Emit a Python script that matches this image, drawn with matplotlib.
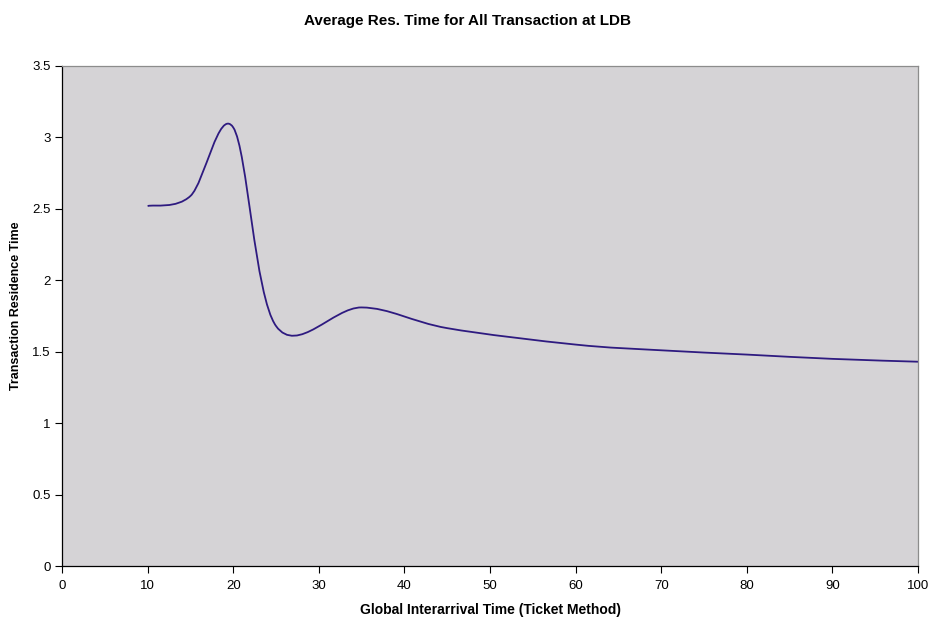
import numpy as np
import matplotlib
matplotlib.use("Agg")
import matplotlib.pyplot as plt
from matplotlib.path import Path
from matplotlib.patches import PathPatch

plt.rcParams['font.family'] = ['Liberation Sans', 'DejaVu Sans']

# interarrival time vs mean residence time at LDB
interarrival = [10, 15, 20, 25, 35, 45, 60, 70, 80, 90, 100]
res_time = [2.52, 2.59, 3.07, 1.68, 1.81, 1.665, 1.55, 1.51, 1.48, 1.45, 1.43]

line_color = "#2e1a80"
plot_bg = "#d5d3d6"


def smooth_path(x, y):
    # spreadsheet-style smoothed line: cubic bezier segments, tangents from neighbours
    x = np.asarray(x, float)
    y = np.asarray(y, float)
    n = len(x)
    verts = [(x[0], y[0])]
    codes = [Path.MOVETO]
    for i in range(n - 1):
        x0, y0 = (x[i - 1], y[i - 1]) if i > 0 else (x[i], y[i])
        x3, y3 = (x[i + 2], y[i + 2]) if i + 2 < n else (x[i + 1], y[i + 1])
        c1 = (x[i] + (x[i + 1] - x0) / 6.0, y[i] + (y[i + 1] - y0) / 6.0)
        c2 = (x[i + 1] - (x3 - x[i]) / 6.0, y[i + 1] - (y3 - y[i]) / 6.0)
        verts += [c1, c2, (x[i + 1], y[i + 1])]
        codes += [Path.CURVE4] * 3
    return Path(verts, codes)


fig = plt.figure(figsize=(9.34, 6.22), dpi=100)
ax = fig.add_axes([0.0664, 0.0900, 0.9165, 0.8039])
ax.set_facecolor(plot_bg)

ax.add_patch(PathPatch(smooth_path(interarrival, res_time), facecolor="none",
                       edgecolor=line_color, linewidth=1.3))

ax.set_xlim(0, 100)
ax.set_ylim(0, 3.5)
ax.set_xticks(np.arange(0, 101, 10))
ax.set_yticks(np.arange(0, 3.51, 0.5))
ax.set_yticklabels(["0", "0.5", "1", "1.5", "2", "2.5", "3", "3.5"])
ax.tick_params(direction="out", length=5, width=0.8, labelsize=9.5)
ax.tick_params(axis="y", pad=3)
ax.tick_params(axis="x", pad=5)

for s in ["left", "bottom"]:
    ax.spines[s].set_color("black")
    ax.spines[s].set_linewidth(0.9)
for s in ["top", "right"]:
    ax.spines[s].set_color("#8c8c8c")
    ax.spines[s].set_linewidth(0.9)

ax.set_xlabel("Global Interarrival Time (Ticket Method)", fontsize=10,
              fontweight="bold", labelpad=8)
ax.set_ylabel("Transaction Residence Time", fontsize=9, fontweight="bold", labelpad=12)
ax.yaxis.set_label_coords(-0.047, 0.52)
fig.text(0.5, 0.966, "Average Res. Time for All Transaction at LDB", ha="center",
         va="center", fontsize=11, fontweight="bold")

fig.savefig("out.png", dpi=100, facecolor="white")
